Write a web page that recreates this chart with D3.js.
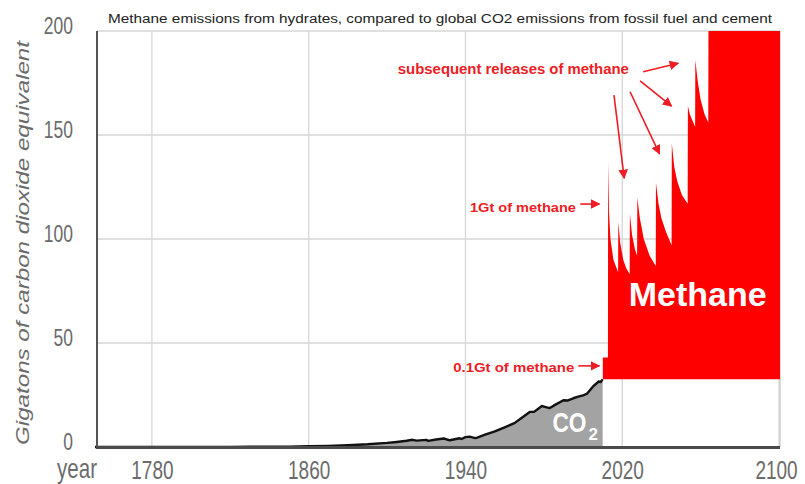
<!DOCTYPE html>
<html><head><meta charset="utf-8">
<script src="https://cdn.jsdelivr.net/npm/d3@7"></script>
<style>html,body{margin:0;padding:0;background:#fff;}</style>
</head><body>
<svg id="chart" width="805" height="484"></svg>
<script>
// ---- data ----
const title = "Methane emissions from hydrates, compared to global CO2 emissions from fossil fuel and cement";
const yTicks = [0, 50, 100, 150, 200];
const xTicks = [1780, 1860, 1940, 2020, 2100];
const co2Years = [1751,1770,1790,1800,1810,1820,1830,1840,1850,1860,1870,1880,1890,1900,1905,1910,1913,1915,1920,1921,1925,1929,1932,1937,1938,1940,1942,1945,1946,1950,1955,1960,1965,1970,1973,1975,1979,1980,1983,1985,1990,1992,1995,1998,2000,2002,2005,2008,2009,2010];
const co2Values = [0.01,0.02,0.03,0.03,0.04,0.05,0.09,0.12,0.2,0.33,0.54,0.87,1.31,1.96,2.43,3.0,3.46,3.07,3.42,2.95,3.59,4.08,3.23,4.19,3.86,4.77,4.97,4.26,4.54,5.98,7.5,9.46,11.49,14.87,16.9,16.87,19.7,19.44,18.71,19.88,22.49,22.35,23.43,24.3,24.83,25.6,29.0,31.5,31.2,32.5];
const methaneBase = 32.6;
const methaneYears = [2010.1,2012.7,2012.8,2013.3,2014,2015.5,2017.9,2018,2019,2020.5,2022,2023.8,2023.9,2025,2026.5,2027.6,2027.7,2029,2031,2034,2037.1,2037.2,2038.5,2040,2042.5,2045.2,2045.3,2046.5,2048,2050.5,2053.4,2053.5,2054.5,2055.8,2057.2,2057.3,2058.5,2060,2062,2063.9,2064,2100.5];
const methaneTop = [43,43,137,112,100,90,84,108,98,90,86,83,112,102,95,92,120,110,100,92,87,127,117,110,103,97,146,135,128,121,117,164,160,157,154,186,176,167,160,156,200,200];

// ---- layout ----
const svg = d3.select("#chart");
const x = d3.scaleLinear().domain([1752, 2100.5]).range([97, 780]);
const y = d3.scaleLinear().domain([0, 200]).range([447, 31]);
const grey = "#6b6b6b";
const red = "#ff0000";
const annRed = "#ee1c24";

// gridlines
svg.append("g").selectAll("line").data(yTicks.filter(d => d > 0)).join("line")
  .attr("x1", x(1752)).attr("x2", x(2100.5)).attr("y1", d => y(d)).attr("y2", d => y(d))
  .attr("stroke", "#d6d6d6").attr("stroke-width", 1.3);
svg.append("g").selectAll("line").data(xTicks).join("line")
  .attr("x1", d => x(d)).attr("x2", d => x(d)).attr("y1", y(0)).attr("y2", y(200))
  .attr("stroke", "#d6d6d6").attr("stroke-width", 1.3);
svg.append("line").attr("x1", x(2100.5)).attr("x2", x(2100.5)).attr("y1", y(0)).attr("y2", y(200))
  .attr("stroke", "#c8c8c8").attr("stroke-width", 1.3);

// CO2 area
const co2 = co2Years.map((d, i) => ({year: d, v: co2Values[i]}));
svg.append("path").datum(co2)
  .attr("fill", "#a3a3a3")
  .attr("d", d3.area().x(d => x(d.year)).y0(y(0)).y1(d => y(d.v)));
svg.append("path").datum(co2)
  .attr("fill", "none").attr("stroke", "#111").attr("stroke-width", 2.4)
  .attr("stroke-linejoin", "round")
  .attr("d", d3.line().x(d => x(d.year)).y(d => y(d.v)));

// Methane area
const meth = methaneYears.map((d, i) => ({year: d, v: methaneTop[i]}));
svg.append("path").datum(meth)
  .attr("fill", red)
  .attr("d", d3.area().x(d => x(d.year)).y0(y(methaneBase)).y1(d => y(d.v)));

// axes lines
svg.append("line").attr("x1", x(1752)).attr("x2", x(1752)).attr("y1", y(0) + 1).attr("y2", y(200))
  .attr("stroke", "#555").attr("stroke-width", 2);
svg.append("line").attr("x1", x(1752) - 1).attr("x2", x(2100.5)).attr("y1", y(0) + 0.5).attr("y2", y(0) + 0.5)
  .attr("stroke", "#4a4a4a").attr("stroke-width", 3);

const narrow = "Liberation Sans Narrow, Liberation Sans, Arial, sans-serif";
const sx = 0.76;

// y tick labels
const yAxis = svg.append("g").attr("transform", `translate(${x(1752)},0)`)
  .call(d3.axisLeft(y).tickValues(yTicks).tickSize(0).tickPadding(24));
yAxis.select(".domain").remove();
yAxis.selectAll("text")
  .attr("fill", grey).attr("font-family", narrow)
  .attr("font-size", 23).attr("dy", "0.1em")
  .attr("x", -24 / sx).attr("transform", `scale(${sx},1)`);

// x tick labels
const xAxis = svg.append("g").attr("transform", `translate(0,${y(0)})`)
  .call(d3.axisBottom(x).tickValues(xTicks).tickSize(0).tickPadding(14).tickFormat(d3.format("d")));
xAxis.select(".domain").remove();
xAxis.selectAll("text")
  .attr("fill", grey).attr("font-family", narrow)
  .attr("font-size", 25).attr("transform", `scale(${sx},1)`)
  .attr("x", d => d === 2100 ? -3 / sx : 0);

svg.append("text").text("year")
  .attr("transform", `translate(97,478) scale(${sx},1)`).attr("text-anchor", "end")
  .attr("fill", grey).attr("font-family", narrow).attr("font-size", 27);

// y axis title
svg.append("text").text("Gigatons of carbon dioxide equivalent")
  .attr("transform", `translate(29,${(y(0) + y(200)) / 2 + 4}) rotate(-90)`)
  .attr("text-anchor", "middle").attr("fill", grey).attr("font-style", "italic")
  .attr("font-family", "Liberation Sans, Arial, sans-serif").attr("font-size", 19)
  .attr("textLength", 404).attr("lengthAdjust", "spacingAndGlyphs");

// chart title
svg.append("text").text(title)
  .attr("x", 440).attr("y", 23).attr("text-anchor", "middle").attr("fill", "#222")
  .attr("font-family", "Liberation Sans, Arial, sans-serif").attr("font-size", 12.5)
  .attr("textLength", 664).attr("lengthAdjust", "spacingAndGlyphs");

// big labels
svg.append("text").text("Methane")
  .attr("x", x(2058.5)).attr("y", y(68)).attr("text-anchor", "middle").attr("fill", "#fff")
  .attr("font-family", "Liberation Sans, Arial, sans-serif").attr("font-weight", "bold").attr("font-size", 34);
svg.append("text").text("CO")
  .attr("transform", `translate(${x(1984.4)},${y(7)}) scale(0.84,1)`).attr("fill", "#fff")
  .attr("font-family", "Liberation Sans, Arial, sans-serif").attr("font-weight", "bold").attr("font-size", 27);
svg.append("text").text("2")
  .attr("x", x(2002.8)).attr("y", y(3.5)).attr("fill", "#fff")
  .attr("font-family", "Liberation Sans, Arial, sans-serif").attr("font-weight", "bold").attr("font-size", 17);

// annotations
const defs = svg.append("defs");
defs.append("marker").attr("id", "ah").attr("viewBox", "0 0 10 10").attr("refX", 9).attr("refY", 5)
  .attr("markerWidth", 6).attr("markerHeight", 6).attr("orient", "auto")
  .append("path").attr("d", "M0,0 L10,5 L0,10 z").attr("fill", annRed);

svg.append("text").text("subsequent releases of methane")
  .attr("x", x(1905.5)).attr("y", y(179.5)).attr("fill", annRed)
  .attr("font-family", narrow).attr("font-weight", "bold").attr("font-size", 14)
  .attr("textLength", 231).attr("lengthAdjust", "spacingAndGlyphs");
svg.append("text").text("1Gt of methane")
  .attr("x", x(1942.3)).attr("y", y(113)).attr("fill", annRed)
  .attr("font-family", narrow).attr("font-weight", "bold").attr("font-size", 13)
  .attr("textLength", 106).attr("lengthAdjust", "spacingAndGlyphs");
svg.append("text").text("0.1Gt of methane")
  .attr("x", x(1933.8)).attr("y", y(36)).attr("fill", annRed)
  .attr("font-family", narrow).attr("font-weight", "bold").attr("font-size", 13)
  .attr("textLength", 121).attr("lengthAdjust", "spacingAndGlyphs");

const arrows = [
  [2030.7, 180.4, 2048.6, 184.5],
  [2029.1, 176.0, 2045.2, 163.9],
  [2024.0, 170.8, 2039.0, 140.9],
  [2015.8, 169.2, 2021.0, 129.2],
  [1998.6, 116.8, 2008.4, 116.8],
  [1997.6, 39.0, 2008.4, 39.0]
];
svg.append("g").selectAll("line").data(arrows).join("line")
  .attr("x1", d => x(d[0])).attr("y1", d => y(d[1]))
  .attr("x2", d => x(d[2])).attr("y2", d => y(d[3]))
  .attr("stroke", annRed).attr("stroke-width", 1.6).attr("marker-end", "url(#ah)");
</script>
</body></html>
